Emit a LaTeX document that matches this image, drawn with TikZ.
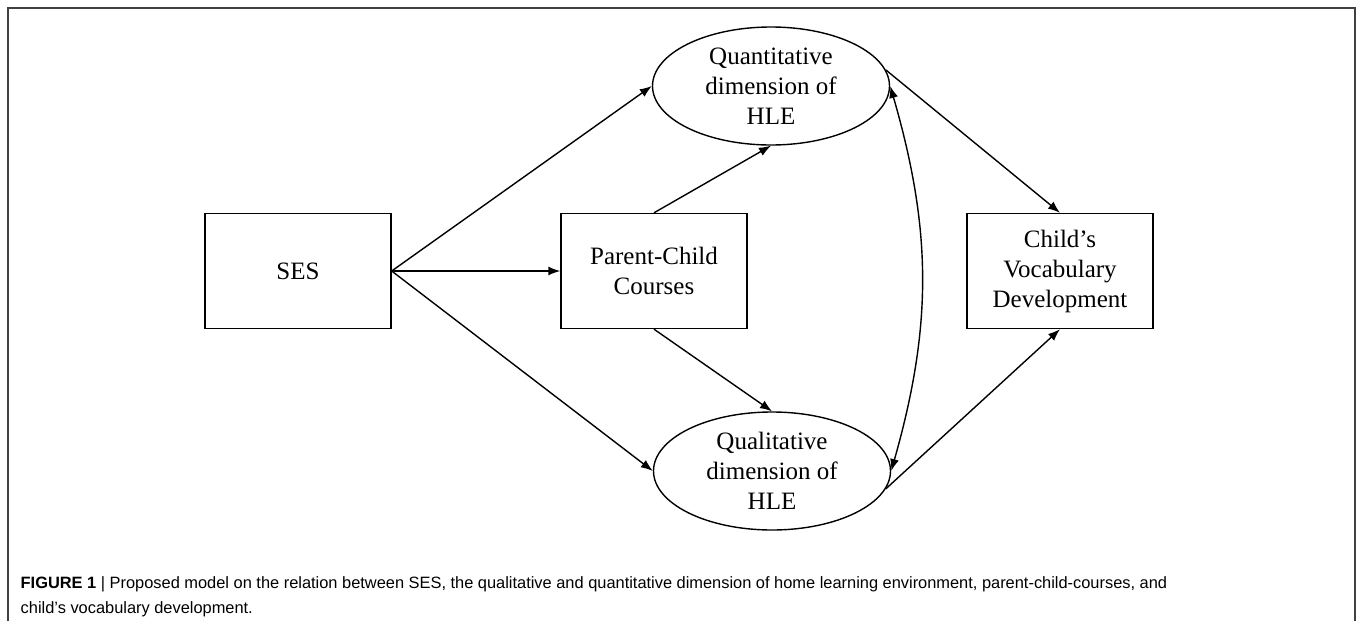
\documentclass[tikz,border=0pt]{standalone}
\usepackage{fontspec}
\setmainfont{Liberation Serif}
\newfontfamily\captionfont{Liberation Sans}
\usetikzlibrary{arrows.meta, positioning, shapes.geometric}

\begin{document}
\begin{tikzpicture}[->,>={Latex[length=12pt,width=9pt]},line width=1.4pt,on grid,
  box node/.style={rectangle,draw,minimum width=186pt,minimum height=115pt,align=center,font=\fontsize{25}{30}\selectfont},
  oval node/.style={ellipse,draw,inner sep=0pt,minimum width=237pt,minimum height=118pt,align=center,font=\fontsize{25}{30}\selectfont}]

  \useasboundingbox (0,0) rectangle (1357pt,-621pt);
  \draw[-,line width=1.5pt,black!75] (8pt,-621pt) -- (8pt,-8pt) -- (1355pt,-8pt) -- (1355pt,-621pt);

  \node[box node] (ses) at (298pt,-271pt) {SES};
  \node[box node] (course) [right=356pt of ses] {Parent-Child\\Courses};
  \node[box node] (child) [right=406pt of course] {Child’s\\Vocabulary\\Development};
  \node[oval node] (quant) [above right=185pt and 117pt of course] {Quantitative\\dimension of\\HLE};
  \node[oval node] (qual) [below right=200pt and 118pt of course] {Qualitative\\dimension of\\HLE};

  \path
    (ses.east) edge (quant.west)
    (ses.east) edge (course.west)
    (ses.east) edge (qual.west)
    (course.north) edge (quant.south)
    (course.south) edge (qual.north)
    (quant.8) edge (child.north)
    (qual.-9) edge (child.south)
    (quant.east) edge[<->,bend left=16] (qual.east);

  \node[anchor=north west,inner sep=0pt,align=left,font=\captionfont\fontsize{16.4}{25}\selectfont] (caption) at (20pt,-576pt)
    {\textbf{FIGURE 1} | Proposed model on the relation between SES, the qualitative and quantitative dimension of home learning environment, parent-child-courses, and\\
     child’s vocabulary development.};
\end{tikzpicture}
\end{document}
